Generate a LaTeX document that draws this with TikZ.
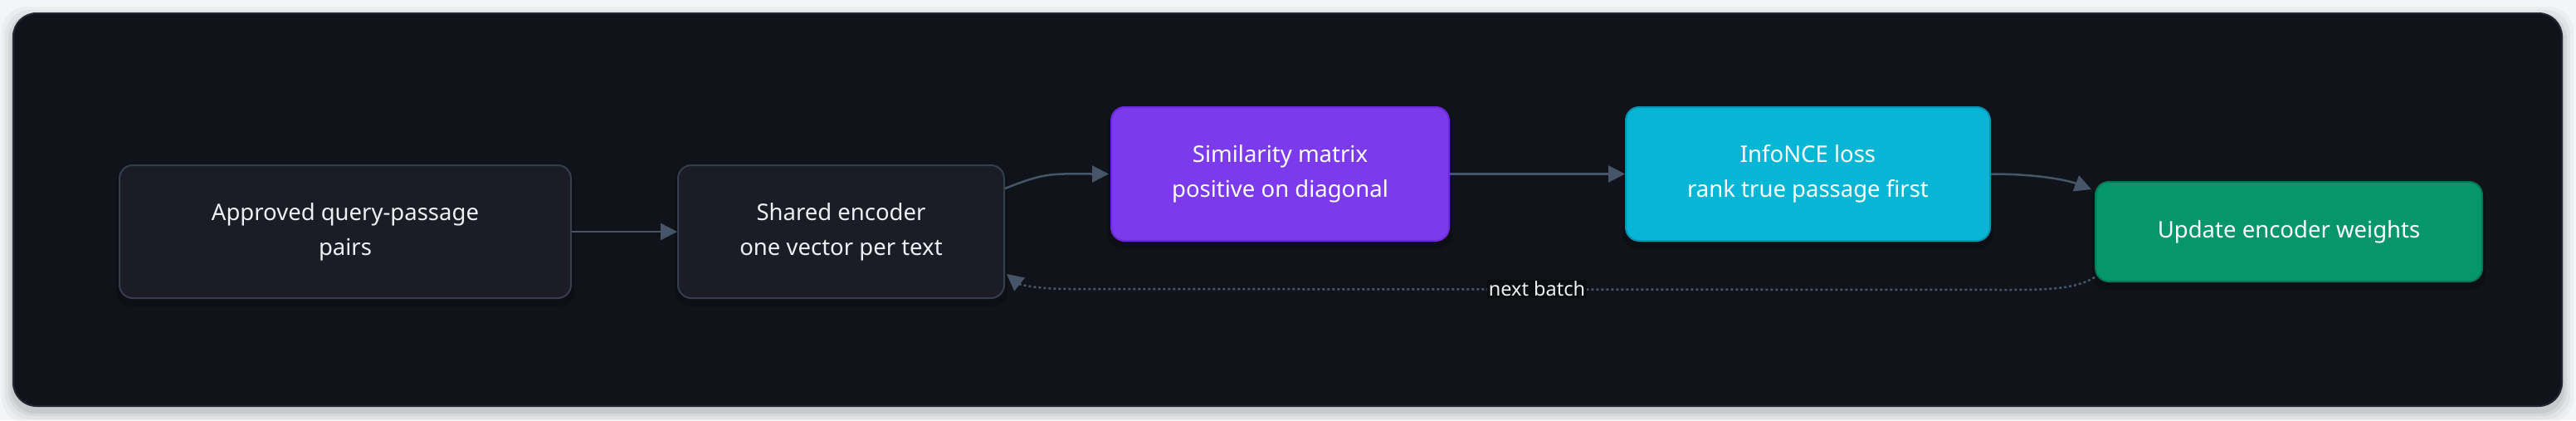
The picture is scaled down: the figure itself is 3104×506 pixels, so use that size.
\documentclass[tikz,border=0pt]{standalone}
\usepackage{fontspec}
\setmainfont{Noto Sans}
\usetikzlibrary{arrows.meta,calc}
\definecolor{pagebg}{HTML}{F4F5F7}
\definecolor{panelbg}{HTML}{11131A}
\definecolor{panelline}{HTML}{222733}
\definecolor{darkfill}{HTML}{1B1C26}
\definecolor{darkline}{HTML}{353E4D}
\definecolor{purplefill}{HTML}{7C3AED}
\definecolor{purpleline}{HTML}{6D28D9}
\definecolor{cyanfill}{HTML}{06B6D4}
\definecolor{cyanline}{HTML}{0891B2}
\definecolor{greenfill}{HTML}{059669}
\definecolor{greenline}{HTML}{047857}
\definecolor{edgecol}{HTML}{475569}
\definecolor{lightText}{HTML}{EEF0F4}
\definecolor{labelbg}{HTML}{0C0D11}
\tikzset{
  box/.style={rounded corners=16pt, line width=2pt, align=center, inner sep=0pt,
    font=\fontsize{27.5}{42}\selectfont},
  darkbox/.style={box, fill=darkfill, draw=darkline, text=lightText},
  purplebox/.style={box, fill=purplefill, draw=purpleline, text=white},
  cyanbox/.style={box, fill=cyanfill, draw=cyanline, text=white},
  greenbox/.style={box, fill=greenfill, draw=greenline, text=white},
  flow/.style={draw=edgecol, line width=2.5pt, -{Triangle[length=20pt,width=20pt]}},
  loopflow/.style={flow, dash pattern=on 3pt off 3pt},
  lbl/.style={fill=labelbg, text=lightText, inner sep=2pt, font=\fontsize{23.5}{28}\selectfont}
}
\begin{document}
\begin{tikzpicture}[x=1pt,y=-1pt]
\useasboundingbox (0,0) rectangle (3104,506);
\fill[pagebg] (0,0) rectangle (3104,506);
% panel shadow
\foreach \s/\o in {14/0.03,10/0.04,6/0.05,3/0.06}{
  \fill[black,opacity=\o,rounded corners=30pt] (16-\s,16-\s+6) rectangle (3087+\s,489+\s+6);
}
\draw[fill=panelbg, draw=panelline, line width=2pt, rounded corners=28pt] (16,16) rectangle (3087,489);

% node shadows
\foreach \x/\y/\w/\h in {416/279/544/160, 1013.5/279/393/160, 1542.5/209.5/407/161, 2178.5/209.5/439/161, 2758/279/466/120}{
  \fill[black,opacity=0.18,rounded corners=18pt] (\x-\w/2-4,\y-\h/2+2) rectangle (\x+\w/2+4,\y+\h/2+10);
}

\node[darkbox, minimum width=544pt, minimum height=160pt] (b1) at (416,279) {Approved query-passage\\pairs};
\node[darkbox, minimum width=393pt, minimum height=160pt] (b2) at (1013.5,279) {Shared encoder\\one vector per text};
\node[purplebox, minimum width=407pt, minimum height=161pt] (b3) at (1542.5,209.5) {Similarity matrix\\positive on diagonal};
\node[cyanbox, minimum width=439pt, minimum height=161pt] (b4) at (2178.5,209.5) {InfoNCE loss\\rank true passage first};
\node[greenbox, minimum width=466pt, minimum height=120pt] (b5) at (2758,279) {Update encoder weights};

\draw[flow] (b1.east) -- (b2.west);
\draw[flow] ($(b2.east)+(0,-52)$) .. controls ($(b2.east)+(50,-72)$) and ($(b3.west)+(-70,0)$) .. ($(b3.west)+(-2,0)$);
\draw[flow] (b3.east) -- (b4.west);
\draw[flow] (b4.east) .. controls ($(b4.east)+(60,0)$) and ($(b5.north west)+(-30,0)$) .. ($(b5.north west)+(-4,10)$);
\coordinate (lp) at (1852,348);
\draw[loopflow] ($(b5.south west)+(0,-6)$) .. controls ($(b5.south west)+(-25,9)$) and ($(b5.south west)+(-60,9)$) .. ($(b5.south west)+(-110,9)$)
  -- (1290,348) .. controls (1245,348) and (1228,342) .. ($(b2.east)+(2,51)$);
\node[lbl] (nb) at (lp) {next batch};
\end{tikzpicture}
\end{document}
